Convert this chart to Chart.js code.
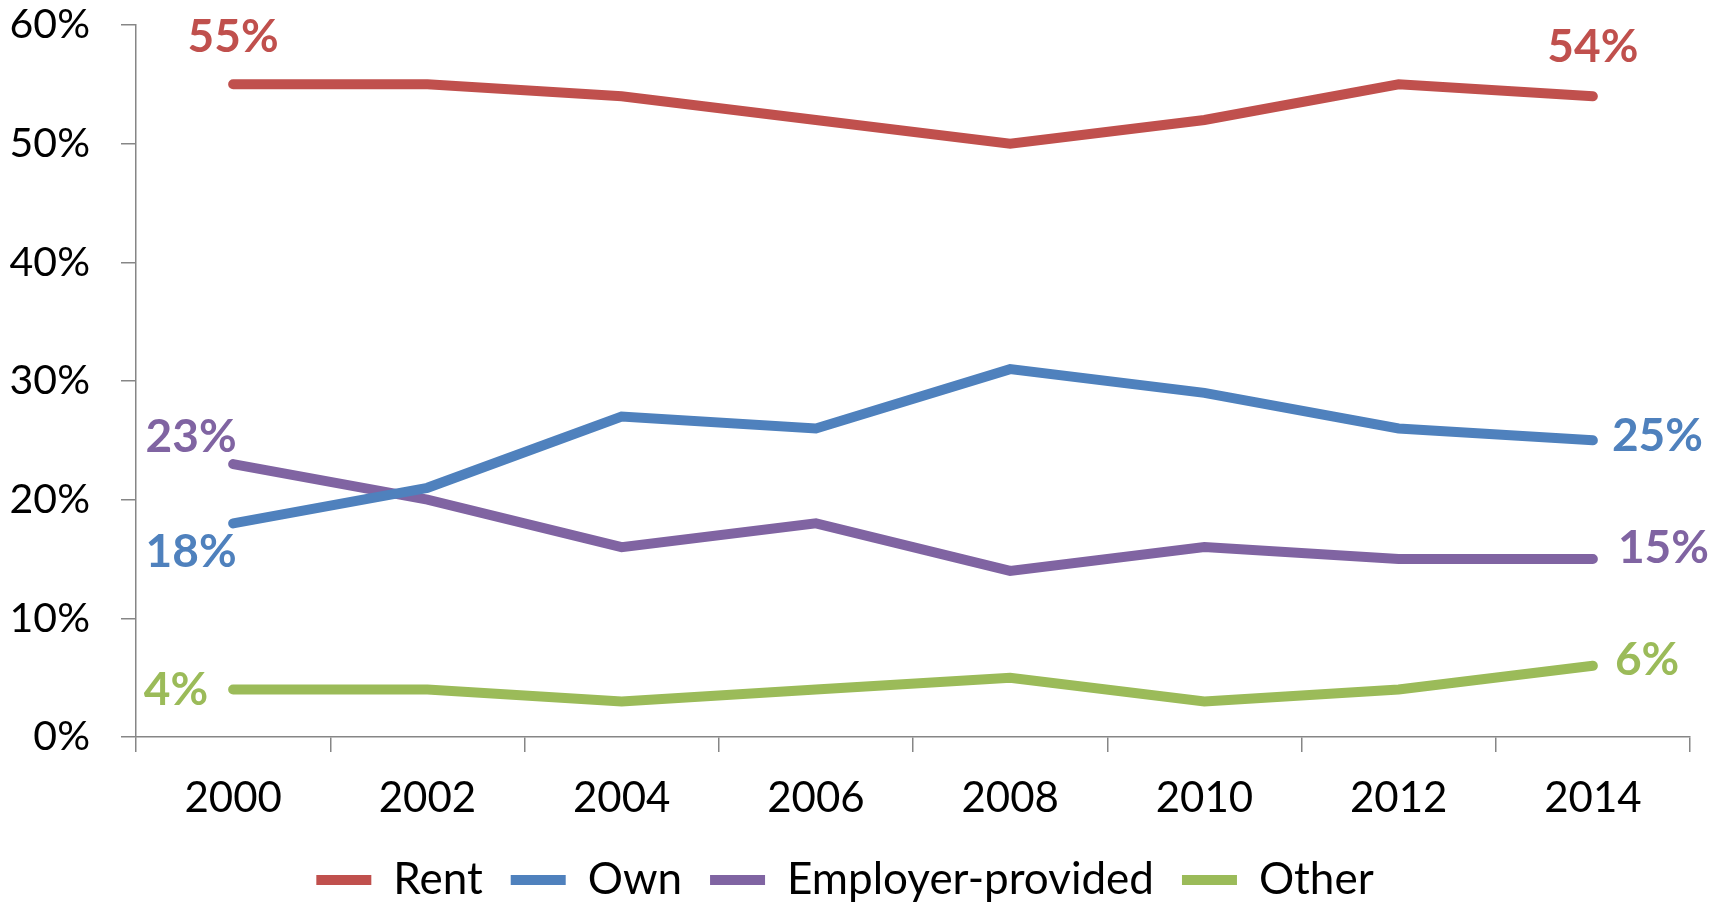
<!DOCTYPE html>
<html>
<head>
<meta charset="utf-8">
<script src="https://cdn.jsdelivr.net/npm/chart.js@4/dist/chart.umd.min.js"></script>
<style>
  html, body { margin: 0; padding: 0; background: #ffffff; }
  #wrap { width: 1725px; height: 903px; }
</style>
</head>
<body>
<div id="wrap"><canvas id="c" width="1725" height="903"></canvas></div>
<script>
// Housing tenure shares, percent of households
const years = ['2000', '2002', '2004', '2006', '2008', '2010', '2012', '2014'];
const rent = [55, 55, 54, 52, 50, 52, 55, 54];
const own = [18, 21, 27, 26, 31, 29, 26, 25];
const employer = [23, 20, 16, 18, 14, 16, 15, 15];
const other = [4, 4, 3, 4, 5, 3, 4, 6];
const seriesNames = ['Rent', 'Own', 'Employer-provided', 'Other'];

const AXIS_GREY = '#868686';
const FONT = 'Lato, "Open Sans", sans-serif';

// Labels on the first and last point of each line, placed relative to the point
const endLabelPlugin = {
  id: 'endLabels',
  afterDatasetsDraw(chart) {
    const ctx = chart.ctx;
    ctx.save();
    ctx.font = 'bold 46px ' + FONT;
    ctx.textBaseline = 'middle';
    chart.data.datasets.forEach((ds, i) => {
      const meta = chart.getDatasetMeta(i);
      if (meta.hidden) return;
      const spots = [
        { idx: 0, opt: ds.endLabels.first },
        { idx: ds.data.length - 1, opt: ds.endLabels.last }
      ];
      spots.forEach(({ idx, opt }) => {
        const pt = meta.data[idx];
        ctx.fillStyle = ds.borderColor;
        ctx.textAlign = opt.align;
        ctx.fillText(ds.data[idx] + '%', pt.x + opt.dx, pt.y + opt.dy);
      });
    });
    ctx.restore();
  }
};

function lineSet(label, data, color, endLabels) {
  return {
    label,
    data,
    borderColor: color,
    backgroundColor: color,
    borderWidth: 10,
    borderCapStyle: 'round',
    borderJoinStyle: 'miter',
    pointRadius: 0,
    pointHoverRadius: 0,
    tension: 0,
    fill: false,
    endLabels
  };
}

new Chart(document.getElementById('c'), {
  type: 'line',
  data: {
    labels: years,
    datasets: [
      lineSet(seriesNames[0], rent, '#C0504D', {
        first: { dx: 0, dy: -47, align: 'center' },
        last: { dx: 0, dy: -49, align: 'center' }
      }),
      lineSet(seriesNames[1], own, '#4F81BD', {
        first: { dx: -42, dy: 29, align: 'center' },
        last: { dx: 19, dy: -4, align: 'left' }
      }),
      lineSet(seriesNames[2], employer, '#8064A2', {
        first: { dx: -42, dy: -27, align: 'center' },
        last: { dx: 25, dy: -11, align: 'left' }
      }),
      lineSet(seriesNames[3], other, '#9BBB59', {
        first: { dx: -25, dy: 1, align: 'right' },
        last: { dx: 22, dy: -6, align: 'left' }
      })
    ]
  },
  options: {
    responsive: false,
    devicePixelRatio: 1,
    animation: false,
    layout: { padding: { top: 25, right: 35, bottom: -9, left: 0 } },
    scales: {
      x: {
        type: 'category',
        offset: true,
        afterFit(scale) { scale.height = 93; },
        grid: {
          offset: true,
          drawOnChartArea: false,
          drawTicks: true,
          tickLength: 15,
          color: AXIS_GREY,
          lineWidth: 1.5
        },
        border: { display: true, color: AXIS_GREY, width: 1.5 },
        ticks: {
          color: '#000000',
          padding: 21,
          maxRotation: 0,
          font: { family: FONT, size: 42 }
        }
      },
      y: {
        min: 0,
        max: 60,
        afterFit(scale) {
          scale.width = 136;
          scale.paddingTop = 0;
          scale.paddingBottom = 0;
        },
        grid: {
          drawOnChartArea: false,
          drawTicks: true,
          tickLength: 15,
          color: AXIS_GREY,
          lineWidth: 1.5
        },
        border: { display: true, color: AXIS_GREY, width: 1.5 },
        ticks: {
          stepSize: 10,
          color: '#000000',
          padding: 31,
          font: { family: FONT, size: 41 },
          callback: (v) => v + '%'
        }
      }
    },
    plugins: {
      legend: {
        display: true,
        position: 'bottom',
        labels: {
          usePointStyle: true,
          pointStyle: 'line',
          pointStyleWidth: 55,
          boxHeight: 10,
          padding: 28,
          color: '#000000',
          font: { family: FONT, size: 44 }
        }
      },
      tooltip: { enabled: false }
    }
  },
  plugins: [endLabelPlugin]
});
</script>
</body>
</html>
